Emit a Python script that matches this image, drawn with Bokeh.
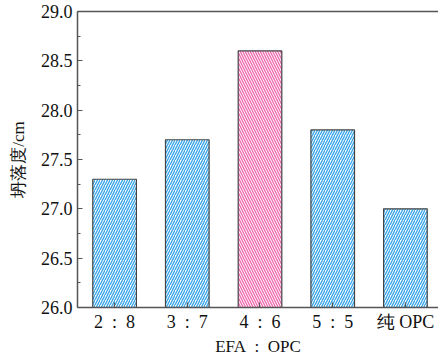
from bokeh.plotting import figure
from bokeh.models import (ColumnDataSource, Range1d, FixedTicker, SingleIntervalTicker,
                          LinearAxis, NumeralTickFormatter)
from bokeh.embed import file_html
from bokeh.resources import INLINE

# slump of each EFA:OPC mix
categories = ["2\u2002:\u20028", "3\u2002:\u20027", "4\u2002:\u20026", "5\u2002:\u20025", "纯 OPC"]
slump = [27.3, 27.7, 28.6, 27.8, 27.0]
fill_colors = ["#3aa6ea", "#3aa6ea", "#f06cb0", "#3aa6ea", "#3aa6ea"]
hatches = ["/", "/", "\\", "/", "/"]
y_min, y_max = 26.0, 29.0

FONT = "Liberation Serif"
AXIS_COLOR = "#555555"

idx = list(range(len(categories)))
src = ColumnDataSource(dict(x=idx, top=slump, color=fill_colors, hatch=hatches))

p = figure(width=438, height=358, output_backend="svg", toolbar_location=None,
           x_range=Range1d(-0.51, 4.455), y_range=Range1d(y_min, y_max),
           min_border_left=77, min_border_right=0, min_border_top=11, min_border_bottom=50)

p.vbar(x="x", top="top", bottom=y_min, width=0.6, source=src,
       fill_color="white", line_color="#444444", line_width=1.2,
       hatch_pattern="hatch", hatch_color="color", hatch_scale=5, hatch_weight=1.4)

p.grid.visible = False
p.outline_line_color = None
p.background_fill_color = "white"
p.border_fill_color = "white"

# y axis
ya = p.yaxis[0]
ya.ticker = SingleIntervalTicker(interval=0.5, num_minor_ticks=2)
ya.formatter = NumeralTickFormatter(format="0.0")
ya.axis_label = "坍落度/cm"
ya.axis_label_text_font = FONT
ya.axis_label_text_font_style = "normal"
ya.axis_label_text_font_size = "17px"
ya.axis_label_standoff = 10
ya.major_label_text_font = FONT
ya.major_label_text_font_size = "18px"
ya.major_label_standoff = 5

# x axis
xa = p.xaxis[0]
xa.ticker = FixedTicker(ticks=idx)
xa.major_label_overrides = {i: c for i, c in zip(idx, categories)}
xa.axis_label = "EFA\u2002:\u2002OPC"
xa.axis_label_text_font = FONT
xa.axis_label_text_font_style = "normal"
xa.axis_label_text_font_size = "17px"
xa.axis_label_standoff = 2
xa.major_label_text_font = FONT
xa.major_label_text_font_size = "18px"
xa.major_label_standoff = 4

for ax in (xa, ya):
    ax.axis_line_color = AXIS_COLOR
    ax.axis_line_width = 1.5
    ax.major_tick_line_color = AXIS_COLOR
    ax.minor_tick_line_color = AXIS_COLOR
    ax.major_tick_line_width = 1.2
    ax.minor_tick_line_width = 1.2
    ax.major_tick_in = 5
    ax.major_tick_out = 0
    ax.minor_tick_in = 3
    ax.minor_tick_out = 0
    ax.major_label_text_color = "#111111"
    ax.axis_label_text_color = "#111111"
xa.minor_tick_line_color = None

# top frame line
top = LinearAxis(ticker=FixedTicker(ticks=[]), major_label_text_font_size="0px",
                 axis_line_color=AXIS_COLOR, axis_line_width=1.5,
                 major_tick_line_color=None, minor_tick_line_color=None)
p.add_layout(top, "above")

open("out.html", "w").write(file_html(p, INLINE))
